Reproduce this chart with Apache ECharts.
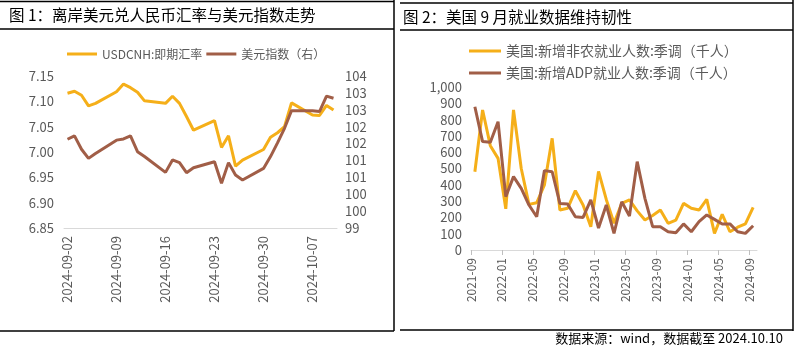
<!DOCTYPE html>
<html><head><meta charset="utf-8">
<script src="https://cdn.jsdelivr.net/npm/echarts@6/dist/echarts.min.js"></script>
<style>html,body{margin:0;padding:0;background:#fff}#c{width:799px;height:361px}</style>
</head><body><div id="c"></div>
<script>
// ---- Chart 1 data ----
const fxDates = ['2024-09-02','2024-09-03','2024-09-04','2024-09-05','2024-09-06',
  '2024-09-09','2024-09-10','2024-09-11','2024-09-12','2024-09-13',
  '2024-09-16','2024-09-17','2024-09-18','2024-09-19','2024-09-20',
  '2024-09-23','2024-09-24','2024-09-25','2024-09-26','2024-09-27',
  '2024-09-30','2024-10-01','2024-10-02','2024-10-03','2024-10-04',
  '2024-10-07','2024-10-08','2024-10-09','2024-10-10'];
const usdcnh = [7.116,7.120,7.112,7.091,7.096, 7.119,7.134,7.127,7.118,7.101,
  7.096,7.110,7.096,7.070,7.043, 7.062,7.009,7.032,6.972,6.984,
  7.005,7.029,7.038,7.050,7.097, 7.073,7.072,7.092,7.083];
const dxy = [101.92,102.03,101.59,101.29,101.45, 101.89,101.93,102.03,101.51,101.35,
  100.83,101.24,101.15,100.82,100.98, 101.18,100.47,101.15,100.74,100.58,
  100.96,101.35,101.80,102.28,102.86, 102.86,102.83,103.34,103.27];
const dxyTickLabels = ['99','100','100','101','101','102','102','103','103','104'];
const fxSeriesNames = ['USDCNH:即期汇率','美元指数（右）'];

// ---- Chart 2 data ----
const jobMonths = ['2021-09','2021-10','2021-11','2021-12','2022-01','2022-02','2022-03','2022-04',
  '2022-05','2022-06','2022-07','2022-08','2022-09','2022-10','2022-11','2022-12',
  '2023-01','2023-02','2023-03','2023-04','2023-05','2023-06','2023-07','2023-08',
  '2023-09','2023-10','2023-11','2023-12','2024-01','2024-02','2024-03','2024-04',
  '2024-05','2024-06','2024-07','2024-08','2024-09'];
const nfp = [480,859,640,562,253,859,500,280,290,400,685,245,256,364,276,143,
  482,310,164,286,307,240,184,212,245,164,184,286,256,245,311,102,219,112,140,160,262];
const adp = [879,665,661,787,327,450,378,276,204,487,480,286,282,204,200,307,
  135,276,102,296,209,542,317,143,143,112,106,160,112,174,215,188,160,160,112,102,149];
const jobSeriesNames = ['美国:新增非农就业人数:季调（千人）','美国:新增ADP就业人数:季调（千人）'];

// calendar days for the left date axis
const calDays = [];
for (let d = new Date(Date.UTC(2024,8,2)); d <= new Date(Date.UTC(2024,9,10)); d.setUTCDate(d.getUTCDate()+1)) {
  calDays.push(d.toISOString().slice(0,10));
}

const YEL = '#F5AF19', BRN = '#A15E47';
const GRAY = '#595959', AXIS = '#d9d9d9';
const FONT = '"Noto Sans CJK SC", "Noto Sans", sans-serif';

const chart = echarts.init(document.getElementById('c'), null, {renderer:'canvas'});
const line = (x1,y1,x2,y2) => ({type:'line', shape:{x1,y1,x2,y2}, style:{stroke:'#000', lineWidth:1.5}, silent:true});

chart.setOption({
  animation:false,
  textStyle:{fontFamily:FONT},
  grid:[
    {left:64, right:462, top:76, bottom:133},
    {left:471, right:42, top:87, bottom:111}
  ],
  legend:[
    {data:fxSeriesNames, left:62, top:43, icon:'rect', itemWidth:30, itemHeight:3, itemGap:4,
     textStyle:{fontSize:12, color:GRAY, fontFamily:FONT}},
    {data:jobSeriesNames, orient:'vertical', left:464, top:39, icon:'rect', itemWidth:32, itemHeight:3, itemGap:8,
     textStyle:{fontSize:14, color:GRAY, fontFamily:FONT}}
  ],
  xAxis:[
    {gridIndex:0, type:'category', data:calDays, boundaryGap:true, position:'bottom',
     axisLine:{lineStyle:{color:AXIS}}, axisTick:{show:false},
     axisLabel:{interval:6, rotate:90, fontSize:13, color:GRAY, margin:8}},
    {gridIndex:1, type:'category', data:jobMonths, boundaryGap:true, position:'bottom',
     axisLine:{lineStyle:{color:AXIS}}, axisTick:{show:false}, axisLabel:{show:false}},
    {gridIndex:1, type:'category', data:jobMonths.concat(['']), boundaryGap:false, position:'bottom',
     axisLine:{show:false}, axisTick:{show:true, interval:3, length:5, lineStyle:{color:'#bfbfbf'}},
     axisLabel:{interval:3, rotate:90, fontSize:12, color:GRAY, margin:8}}
  ],
  yAxis:[
    {gridIndex:0, type:'value', position:'left', min:6.85, max:7.15, interval:0.05,
     axisLine:{show:false}, axisTick:{show:false}, splitLine:{show:false},
     axisLabel:{fontSize:13, color:GRAY, margin:10, formatter:v=>v.toFixed(2)}},
    {gridIndex:0, type:'value', position:'right', min:99, max:104, show:false},
    {gridIndex:0, type:'value', position:'right', min:0, max:9, interval:1,
     axisLine:{show:false}, axisTick:{show:false}, splitLine:{show:false},
     axisLabel:{fontSize:13, color:GRAY, margin:8, formatter:v=>dxyTickLabels[Math.round(v)]}},
    {gridIndex:1, type:'value', position:'left', min:0, max:1000, interval:100,
     axisLine:{show:false}, axisTick:{show:false}, splitLine:{show:false},
     axisLabel:{fontSize:13, color:GRAY, margin:9, formatter:v=>v.toLocaleString('en-US')}}
  ],
  series:[
    {name:fxSeriesNames[0], type:'line', xAxisIndex:0, yAxisIndex:0, symbol:'none',
     data:fxDates.map((d,i)=>[d,usdcnh[i]]), lineStyle:{color:YEL, width:3}, itemStyle:{color:YEL}},
    {name:fxSeriesNames[1], type:'line', xAxisIndex:0, yAxisIndex:1, symbol:'none',
     data:fxDates.map((d,i)=>[d,dxy[i]]), lineStyle:{color:BRN, width:3}, itemStyle:{color:BRN}},
    {name:jobSeriesNames[0], type:'line', xAxisIndex:1, yAxisIndex:3, symbol:'none',
     data:nfp, lineStyle:{color:YEL, width:3}, itemStyle:{color:YEL}},
    {name:jobSeriesNames[1], type:'line', xAxisIndex:1, yAxisIndex:3, symbol:'none',
     data:adp, lineStyle:{color:BRN, width:3}, itemStyle:{color:BRN}}
  ],
  graphic:[
    line(0,1.5,394,1.5), line(0,29,394,29), line(394,0,394,331), line(0,331,394,331),
    line(400,3,793,3), line(400,30,793,30), line(793,0,793,331), line(400,330,793,330),
    {type:'text', left:9, top:7, style:{text:'图 1：离岸美元兑人民币汇率与美元指数走势', fontSize:15.5, fill:'#000', fontFamily:FONT}},
    {type:'text', left:403, top:9, style:{text:'图 2：美国 9 月就业数据维持韧性', fontSize:15.5, fill:'#000', fontFamily:FONT}},
    {type:'text', right:16, top:332, style:{text:'数据来源：wind，数据截至 2024.10.10', fontSize:13, fill:'#000', fontFamily:FONT}}
  ]
});
</script></body></html>
